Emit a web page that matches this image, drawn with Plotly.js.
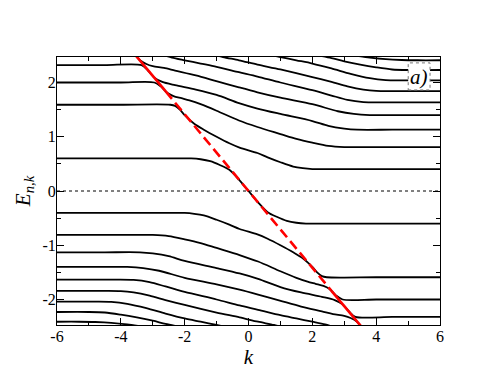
<!DOCTYPE html>
<html>
<head>
<meta charset="utf-8">
<script src="https://cdn.plot.ly/plotly-3.0.1.min.js"></script>
<style>
  body { margin: 0; background: white; }
  #spectrum { width: 496px; height: 383px; }
</style>
</head>
<body>
<div id="spectrum"></div>
<script>
/////
///// Levels E_{n,k}
/////

// branch through zero
let kU0 = [-6, -3, -1.8, -1.5, -1.2, -0.9, -0.6, -0.3, 0, 0.3, 0.6, 0.9, 1.2, 1.5, 1.8, 3, 6];
let eU0 = [0.60, 0.60, 0.60, 0.585, 0.55, 0.48, 0.39, 0.21, 0, -0.21, -0.39, -0.48, -0.55, -0.585, -0.60, -0.60, -0.60];

// upper levels
let kU1 = [-6, -4, -2.45, -2.3, -2.15, -2.0, -1.7, -1.4, -1.0, -0.6, -0.28, 0.28, 0.6, 1.0, 1.4, 1.7, 2.0, 4, 6];
let eU1 = [1.59, 1.59, 1.59, 1.57, 1.50, 1.40, 1.24, 1.13, 1.0, 0.88, 0.80, 0.70, 0.62, 0.53, 0.45, 0.42, 0.405, 0.405, 0.405];

let kU2 = [-6, -4, -2.95, -2.75, -2.55, -2.35, -2.1, -1.85, -1.5, -1.0, -0.3, 0.28, 1.0, 1.5, 2.0, 2.5, 3.0, 4.5, 6];
let eU2 = [2.0, 2.0, 2.0, 1.93, 1.81, 1.75, 1.71, 1.67, 1.60, 1.48, 1.30, 1.18, 1.05, 0.96, 0.89, 0.83, 0.81, 0.81, 0.81];

let kU3 = [-6, -4.5, -3.35, -3.15, -2.95, -2.7, -2.3, -1.65, -1.0, -0.3, 0.28, 1.0, 2.0, 2.5, 3.0, 3.4, 4.5, 6];
let eU3 = [2.32, 2.32, 2.32, 2.22, 2.09, 2.01, 1.95, 1.87, 1.77, 1.62, 1.52, 1.42, 1.29, 1.20, 1.15, 1.13, 1.13, 1.13];

let kU4 = [-3.7, -3.4, -3.2, -3.0, -2.65, -2.3, -1.65, -0.98, -0.3, 0.28, 1.0, 2.0, 2.8, 3.3, 3.8, 5, 6];
let eU4 = [2.62, 2.41, 2.34, 2.30, 2.27, 2.22, 2.13, 2.02, 1.91, 1.82, 1.72, 1.60, 1.47, 1.42, 1.40, 1.40, 1.40];

let kU5 = [-2.8, -2.4, -2.0, -1.5, -1.0, -0.3, 0.28, 1.0, 2.0, 2.6, 3.1, 3.6, 4.2, 6];
let eU5 = [2.53, 2.46, 2.41, 2.35, 2.29, 2.19, 2.11, 2.00, 1.86, 1.76, 1.68, 1.64, 1.635, 1.635];

let kU6 = [-1.2, -0.8, -0.3, 0.28, 1.0, 2.0, 2.6, 3.1, 3.6, 4.0, 4.5, 6];
let eU6 = [2.53, 2.47, 2.41, 2.33, 2.24, 2.10, 2.01, 1.93, 1.87, 1.845, 1.84, 1.84];

let kU7 = [0.5, 1.0, 1.5, 2.0, 2.6, 3.2, 3.8, 4.3, 4.8, 6];
let eU7 = [2.53, 2.47, 2.41, 2.35, 2.26, 2.16, 2.08, 2.045, 2.04, 2.04];

let kU8 = [2.1, 2.6, 3.0, 3.5, 4.0, 4.5, 5.0, 6];
let eU8 = [2.51, 2.45, 2.39, 2.33, 2.28, 2.24, 2.23, 2.23];

let kU9 = [3.3, 3.8, 4.3, 4.8, 5.3, 6];
let eU9 = [2.50, 2.46, 2.43, 2.415, 2.41, 2.41];

// lower levels
let kL1 = [-6, -4, -2.0, -1.7, -1.4, -1.0, -0.6, -0.28, 0.28, 0.6, 1.0, 1.4, 1.7, 2.0, 2.15, 2.3, 2.45, 4, 6];
let eL1 = [-0.405, -0.405, -0.405, -0.42, -0.45, -0.53, -0.62, -0.70, -0.80, -0.88, -1.0, -1.13, -1.24, -1.40, -1.50, -1.57, -1.59, -1.59, -1.59];

let kL2 = [-6, -4.5, -3.0, -2.5, -2.0, -1.5, -1.0, -0.28, 0.3, 1.0, 1.5, 1.85, 2.1, 2.35, 2.55, 2.75, 2.95, 4, 6];
let eL2 = [-0.81, -0.81, -0.81, -0.83, -0.89, -0.96, -1.05, -1.18, -1.30, -1.48, -1.60, -1.67, -1.71, -1.75, -1.81, -1.93, -2.0, -2.0, -2.0];

let kL3 = [-6, -4.5, -3.4, -3.0, -2.5, -2.0, -1.0, -0.28, 0.3, 1.0, 1.65, 2.3, 2.7, 2.95, 3.15, 3.35, 4.5, 6];
let eL3 = [-1.13, -1.13, -1.13, -1.15, -1.20, -1.29, -1.42, -1.52, -1.62, -1.77, -1.87, -1.95, -2.01, -2.09, -2.22, -2.32, -2.32, -2.32];

let kL4 = [-6, -5, -3.8, -3.3, -2.8, -2.0, -1.0, -0.28, 0.3, 0.98, 1.65, 2.3, 2.65, 3.0, 3.2, 3.4, 3.7];
let eL4 = [-1.40, -1.40, -1.40, -1.42, -1.47, -1.60, -1.72, -1.82, -1.91, -2.02, -2.13, -2.22, -2.27, -2.30, -2.34, -2.41, -2.62];

let kL5 = [-6, -4.2, -3.6, -3.1, -2.6, -2.0, -1.0, -0.28, 0.3, 1.0, 1.5, 2.0, 2.4, 2.8];
let eL5 = [-1.635, -1.635, -1.64, -1.68, -1.76, -1.86, -2.00, -2.11, -2.19, -2.29, -2.35, -2.41, -2.46, -2.53];

let kL6 = [-6, -4.5, -4.0, -3.6, -3.1, -2.6, -2.0, -1.0, -0.28, 0.3, 0.8, 1.2];
let eL6 = [-1.84, -1.84, -1.845, -1.87, -1.93, -2.01, -2.10, -2.24, -2.33, -2.41, -2.47, -2.53];

let kL7 = [-6, -4.8, -4.3, -3.8, -3.2, -2.6, -2.0, -1.5, -1.0, -0.5];
let eL7 = [-2.04, -2.04, -2.045, -2.08, -2.16, -2.26, -2.35, -2.41, -2.47, -2.53];

let kL8 = [-6, -5, -4.5, -4, -3.5, -3, -2.6, -2.1];
let eL8 = [-2.23, -2.23, -2.24, -2.28, -2.33, -2.39, -2.45, -2.51];

let kL9 = [-6, -5.3, -4.8, -4.3, -3.8, -3.3];
let eL9 = [-2.41, -2.41, -2.415, -2.43, -2.46, -2.50];

// the straight line E = -k/sqrt(2): solid at the ends, dashed in between
let redK = [-3.55, -2.6, 2.6, 3.55];
let redE = [2.51, 1.84, -1.84, -2.51];

// axis ticks
let xTickVals = [-6, -4, -2, 0, 2, 4, 6];
let xTickText = ['-6', '-4', '-2', '0', '2', '4', '6'];
let yTickVals = [-2, -1, 0, 1, 2];
let yTickText = ['-2', '-1', '0', '1', '2'];

/////
///// Figure
/////

let levels = [
    [kU0, eU0],
    [kU1, eU1], [kU2, eU2], [kU3, eU3], [kU4, eU4], [kU5, eU5],
    [kU6, eU6], [kU7, eU7], [kU8, eU8], [kU9, eU9],
    [kL1, eL1], [kL2, eL2], [kL3, eL3], [kL4, eL4], [kL5, eL5],
    [kL6, eL6], [kL7, eL7], [kL8, eL8], [kL9, eL9]
];

let traces = levels.map(function (lv) {
    return {
        x: lv[0],
        y: lv[1],
        mode: 'lines',
        type: 'scatter',
        line: { color: 'black', width: 1.8, shape: 'spline', smoothing: 0.8 },
        hoverinfo: 'skip'
    };
});

let redLine = { color: '#ff0000', width: 2.6 };

traces.push({
    x: redK.slice(0, 2), y: redE.slice(0, 2),
    mode: 'lines', type: 'scatter', line: redLine, hoverinfo: 'skip'
});
traces.push({
    x: redK.slice(1, 3), y: redE.slice(1, 3),
    mode: 'lines', type: 'scatter',
    line: { color: redLine.color, width: redLine.width, dash: '10px,5px' },
    hoverinfo: 'skip'
});
traces.push({
    x: redK.slice(2, 4), y: redE.slice(2, 4),
    mode: 'lines', type: 'scatter', line: redLine, hoverinfo: 'skip'
});

let serif = 'Liberation Serif';

let axisCommon = {
    ticks: 'inside',
    ticklen: 7,
    tickwidth: 1,
    tickcolor: 'black',
    showline: true,
    linecolor: 'black',
    linewidth: 1,
    mirror: 'ticks',
    showgrid: false,
    zeroline: false,
    ticklabelstandoff: -3,
    tickfont: { family: serif, size: 16, color: 'black' }
};

let layout = {
    width: 496,
    height: 383,
    margin: { l: 57, r: 56, t: 57, b: 58 },
    showlegend: false,
    paper_bgcolor: 'white',
    plot_bgcolor: 'white',
    font: { family: serif, color: 'black' },
    xaxis: Object.assign({}, axisCommon, {
        range: [-6, 6],
        tickmode: 'array',
        tickvals: xTickVals,
        ticktext: xTickText,
        minor: { dtick: 1, tick0: 0, ticks: 'inside', ticklen: 4, tickcolor: 'black', showgrid: false },
        title: { text: '<i>k</i>', font: { family: serif, size: 21 }, standoff: 0 }
    }),
    yaxis: Object.assign({}, axisCommon, {
        range: [-2.47, 2.47],
        tickmode: 'array',
        tickvals: yTickVals,
        ticktext: yTickText,
        minor: { dtick: 0.5, tick0: 0, ticks: 'inside', ticklen: 4, tickcolor: 'black', showgrid: false },
        title: { text: '<i>E</i><sub><i>n,k</i></sub>', font: { family: serif, size: 21 }, standoff: 6 }
    }),
    shapes: [
        // dotted zero line
        { type: 'line', xref: 'paper', yref: 'y', x0: 0, x1: 1, y0: 0, y1: 0,
          line: { color: 'black', width: 1, dash: 'dot' }, layer: 'below' },
        // panel label box
        { type: 'rect', xref: 'paper', yref: 'paper', x0: 0.917, x1: 0.974, y0: 0.877, y1: 0.978,
          fillcolor: 'white', line: { color: '#777', width: 1, dash: 'dot' }, layer: 'above' }
    ],
    annotations: [
        { xref: 'paper', yref: 'paper', x: 0.9455, y: 0.925, xanchor: 'center', yanchor: 'middle',
          text: '<i>a)</i>', showarrow: false, font: { family: serif, size: 21, color: 'black' } }
    ]
};

Plotly.newPlot('spectrum', traces, layout, { staticPlot: true });
</script>
</body>
</html>
